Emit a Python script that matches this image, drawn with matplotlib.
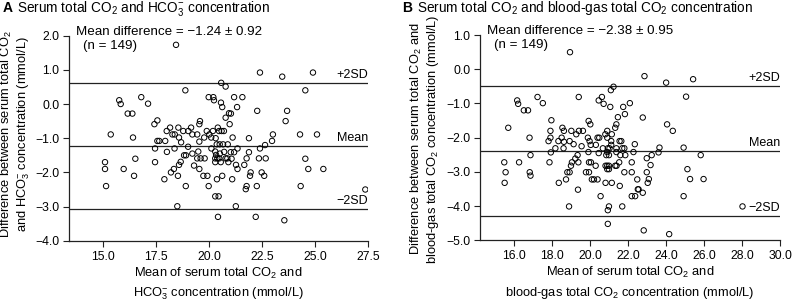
import numpy as np
import matplotlib.pyplot as plt

plt.rcParams['font.family'] = ['Liberation Sans', 'DejaVu Sans']
plt.rcParams['mathtext.fontset'] = 'custom'
plt.rcParams['mathtext.rm'] = 'Liberation Sans'
plt.rcParams['mathtext.it'] = 'Liberation Sans:italic'
plt.rcParams['axes.unicode_minus'] = True

# panel A: serum total CO2 vs HCO3-
a_mean = [18.43, 20.56, 20.77, 18.87, 15.75, 15.82, 16.79, 17.11, 16.15, 16.37,
          19.97, 20.19, 20.22, 20.55, 20.61, 20.77, 20.93, 17.55, 17.41, 15.35,
          16.40, 18.15, 17.99, 18.26, 18.54, 18.77, 19.01, 19.14, 18.37, 18.57,
          17.55, 17.64, 17.92, 18.67, 19.20, 19.43, 19.56, 19.53, 19.88, 20.00,
          20.17, 20.40, 20.46, 20.58, 20.69, 19.76, 20.09, 20.35, 20.49, 20.65,
          20.87, 19.53, 17.44, 18.36, 18.81, 18.90, 18.65, 19.48, 19.43, 19.59,
          19.78, 20.28, 20.32, 20.28, 20.38, 20.47, 20.28, 20.54, 20.77, 20.85,
          20.90, 15.08, 15.08, 15.13, 15.96, 16.51, 16.45, 17.44, 17.88, 18.19,
          18.33, 18.52, 18.57, 18.89, 19.28, 19.53, 19.72, 19.91, 19.97, 20.36,
          20.61, 20.28, 20.44, 20.41, 18.49, 22.39, 23.44, 24.89, 24.53, 21.17,
          21.56, 21.31, 21.02, 20.96, 22.26, 23.67, 23.60, 21.10, 21.87, 23.00,
          22.96, 24.28, 25.08, 22.63, 22.39, 21.87, 21.33, 21.01, 21.17, 21.26,
          21.33, 21.65, 21.76, 22.34, 22.66, 21.95, 21.92, 22.47, 22.59, 21.08,
          21.76, 21.72, 22.24, 21.25, 22.19, 23.54, 24.53, 24.67, 25.38, 24.31,
          27.36, 20.30, 20.50, 19.00, 20.10, 21.05, 18.00, 19.20, 20.70]
a_diff = [1.73, 0.62, 0.51, 0.40, 0.11, 0.00, 0.20, 0.01, -0.28, -0.28,
          0.20, 0.20, 0.11, 0.04, -0.09, -0.40, -0.27, -0.48, -0.59, -0.89,
          -0.98, -0.69, -0.79, -0.89, -0.69, -0.79, -0.79, -0.69, -0.89, -0.98,
          -1.08, -1.08, -1.08, -1.12, -0.89, -0.89, -0.50, -0.59, -0.79, -0.89,
          -0.79, -0.69, -0.79, -0.79, -0.79, -0.98, -0.98, -1.18, -1.18, -1.18,
          -1.18, -1.10, -1.30, -1.30, -1.50, -1.50, -1.69, -1.39, -1.59, -1.59,
          -1.59, -1.39, -1.49, -1.59, -1.59, -1.59, -1.70, -1.70, -1.59, -1.59,
          -1.70, -1.70, -1.90, -2.40, -1.90, -1.60, -2.10, -1.70, -2.20, -2.00,
          -1.90, -2.10, -1.78, -2.40, -1.80, -1.90, -2.10, -2.10, -2.40, -2.20,
          -2.10, -2.70, -2.70, -3.30, -2.99, 0.92, 0.80, 0.92, 0.40, 0.20,
          0.20, -0.09, -0.28, -0.59, -0.20, -0.20, -0.50, -0.98, -1.00, -0.89,
          -1.08, -0.89, -0.89, -1.20, -1.30, -1.41, -1.30, -1.41, -1.41, -1.78,
          -1.90, -1.78, -1.59, -1.59, -1.59, -2.00, -2.10, -2.00, -2.10, -2.20,
          -2.40, -2.49, -2.40, -2.99, -3.30, -3.40, -1.60, -1.90, -1.90, -2.40,
          -2.50, -1.00, -1.45, -1.25, -1.30, -1.60, -1.40, -1.45, -1.40]

# panel B: serum total CO2 vs blood-gas total CO2
b_mean = [18.94, 21.23, 21.09, 19.40, 17.23, 17.51, 16.16, 16.21, 16.51, 16.73,
          15.69, 16.81, 20.45, 20.62, 20.71, 21.06, 21.74, 22.09, 21.83, 21.46,
          21.38, 21.32, 17.96, 17.91, 17.91, 18.54, 18.62, 18.50, 18.33, 19.01,
          19.27, 19.41, 19.62, 18.92, 19.13, 19.92, 20.01, 19.88, 19.97, 20.39,
          20.48, 20.90, 20.80, 21.14, 20.90, 21.11, 21.55, 22.35, 15.48, 15.55,
          15.50, 16.26, 16.86, 16.82, 16.86, 17.86, 17.93, 18.35, 18.17, 18.73,
          18.80, 18.92, 18.99, 19.04, 19.22, 19.34, 19.38, 19.36, 18.89, 19.78,
          19.94, 20.09, 20.20, 20.39, 19.94, 20.04, 19.91, 20.29, 20.55, 20.81,
          21.14, 20.81, 20.90, 20.99, 20.90, 20.99, 20.85, 20.90, 20.99, 20.99,
          20.93, 20.93, 21.32, 21.39, 21.38, 21.59, 21.85, 21.56, 21.69, 21.80,
          21.53, 21.80, 22.19, 22.19, 22.28, 22.48, 22.51, 22.19, 22.37, 22.82,
          24.16, 22.98, 23.24, 23.18, 23.60, 23.65, 22.98, 23.09, 23.03, 22.55,
          22.77, 24.92, 25.82, 25.12, 25.26, 25.97, 24.92, 28.02, 22.86, 24.00,
          25.42, 25.05, 22.77, 24.05, 24.35, 21.64, 17.81, 18.62, 20.03, 20.30,
          20.67, 20.93, 21.02, 21.11, 21.38, 21.69, 18.60, 19.55, 20.45]
b_diff = [0.50, -0.51, -0.61, -0.81, -0.81, -0.99, -0.91, -1.01, -1.20, -1.20,
          -1.71, -2.00, -0.91, -0.81, -1.01, -1.10, -1.10, -0.99, -1.31, -1.40,
          -1.61, -1.71, -1.49, -1.80, -2.00, -1.71, -1.80, -2.00, -2.10, -1.80,
          -1.90, -1.80, -1.80, -2.10, -2.19, -1.51, -1.61, -2.00, -2.10, -2.00,
          -2.00, -1.80, -1.90, -1.90, -2.00, -2.10, -2.10, -2.19, -2.72, -3.01,
          -3.32, -2.72, -2.51, -3.01, -3.11, -2.72, -2.43, -3.32, -2.31, -3.22,
          -3.01, -3.01, -2.82, -2.72, -2.61, -2.51, -2.72, -3.52, -4.01, -3.01,
          -3.01, -3.22, -3.22, -3.22, -2.72, -2.72, -2.42, -2.82, -3.71, -3.32,
          -3.32, -2.82, -2.82, -2.82, -2.92, -2.92, -2.51, -2.42, -2.51, -4.01,
          -4.12, -4.52, -2.82, -2.82, -2.42, -2.51, -2.51, -3.41, -4.01, -3.01,
          -2.72, -2.31, -2.72, -3.01, -2.42, -3.22, -3.51, -3.71, -3.71, -4.71,
          -4.82, -2.60, -2.51, -2.80, -2.43, -2.29, -3.01, -3.21, -3.32, -3.51,
          -3.61, -2.29, -2.51, -2.92, -3.21, -3.21, -3.71, -4.01, -0.20, -0.39,
          -0.29, -0.80, -1.41, -1.61, -1.80, -2.10, -2.10, -2.12, -2.21, -2.21,
          -2.31, -2.31, -2.31, -2.21, -2.31, -2.31, -2.31, -2.25, -2.45]

a_stats = (-1.24, 0.92)
b_stats = (-2.38, 0.95)
a_xticks = [15.0, 17.5, 20.0, 22.5, 25.0, 27.5]
a_yticks = [2.0, 1.0, 0.0, -1.0, -2.0, -3.0, -4.0]
b_xticks = [16.0, 18.0, 20.0, 22.0, 24.0, 26.0, 28.0, 30.0]
b_yticks = [1.0, 0.0, -1.0, -2.0, -3.0, -4.0, -5.0]

LINE_C = '#222222'
TICK_FS = 8.8
LABEL_FS = 9.3
NOTE_FS = 9.6


def fmt(v):
    return f'{v:.1f}'.replace('-', '\u2212')


def draw_panel(ax, x, y, stats, xlim, ylim, xticks, yticks):
    mean, sd = stats
    upper, lower = mean + 2 * sd, mean - 2 * sd
    ax.scatter(x, y, s=15, facecolors='none', edgecolors='black',
               linewidths=0.7, zorder=3)
    for level, label in ((upper, '+2SD'), (mean, 'Mean'), (lower, '\u22122SD')):
        ax.axhline(level, color=LINE_C, lw=0.9, zorder=2)
        ax.annotate(label, (1.0, level), xycoords=('axes fraction', 'data'),
                    xytext=(0, 1.5), textcoords='offset points',
                    ha='right', va='bottom', fontsize=9)
    ax.set_xlim(*xlim)
    ax.set_ylim(*ylim)
    ax.set_xticks(xticks)
    ax.set_xticklabels([fmt(t) for t in xticks])
    ax.set_yticks(yticks)
    ax.set_yticklabels([fmt(t) for t in yticks])
    for s in ('top', 'right'):
        ax.spines[s].set_visible(False)
    for s in ('left', 'bottom'):
        ax.spines[s].set_color(LINE_C)
        ax.spines[s].set_linewidth(0.9)
    ax.tick_params(direction='out', length=4, width=0.8, colors=LINE_C,
                   labelcolor='black', labelsize=TICK_FS, pad=3)
    ax.text(0.023, 1.018, f'Mean difference = \u2212{abs(mean):.2f} \u00b1 {sd:.2f}',
            transform=ax.transAxes, ha='left', va='center', fontsize=NOTE_FS)
    ax.text(0.046, 0.95, '(n = 149)', transform=ax.transAxes,
            ha='left', va='center', fontsize=NOTE_FS)


fig = plt.figure(figsize=(7.92, 3.01), dpi=100)
ax_a = fig.add_axes([0.0871, 0.2, 0.3779, 0.6817])
ax_b = fig.add_axes([0.606, 0.2017, 0.379, 0.6817])

draw_panel(ax_a, a_mean, a_diff, a_stats, (13.38, 27.5), (-4.0, 2.0), a_xticks, a_yticks)
draw_panel(ax_b, b_mean, b_diff, b_stats, (14.2, 30.0), (-5.0, 1.0), b_xticks, b_yticks)

ax_a.set_xlabel('Mean of serum total CO$_2$ and\nHCO$_3^{-}$ concentration (mmol/L)',
                fontsize=LABEL_FS, linespacing=1.45)
ax_b.set_xlabel('Mean of serum total CO$_2$ and\nblood-gas total CO$_2$ concentration (mmol/L)',
                fontsize=LABEL_FS, linespacing=1.45)
ax_a.xaxis.set_label_coords(0.5, -0.12)
ax_b.xaxis.set_label_coords(0.5, -0.12)

# y labels placed by hand so both lines sit where the reference has them
fig.text(0.0195, 0.555,
         'Difference between serum total CO$_2$\nand HCO$_3^{-}$ concentration (mmol/L)',
         rotation=90, ha='center', va='center', fontsize=LABEL_FS, linespacing=1.05)
fig.text(0.5366, 0.538,
         'Difference between serum total CO$_2$ and\nblood-gas total CO$_2$ concentration (mmol/L)',
         rotation=90, ha='center', va='center', fontsize=LABEL_FS, linespacing=1.05)

fig.text(0.003, 0.972, 'A', fontsize=10, fontweight='bold', ha='left', va='center')
fig.text(0.021, 0.972, 'Serum total CO$_2$ and HCO$_3^{-}$ concentration',
         fontsize=9.8, ha='left', va='center')
fig.text(0.508, 0.972, 'B', fontsize=10, fontweight='bold', ha='left', va='center')
fig.text(0.526, 0.972, 'Serum total CO$_2$ and blood-gas total CO$_2$ concentration',
         fontsize=9.8, ha='left', va='center')

fig.savefig('out.png', dpi=100)
